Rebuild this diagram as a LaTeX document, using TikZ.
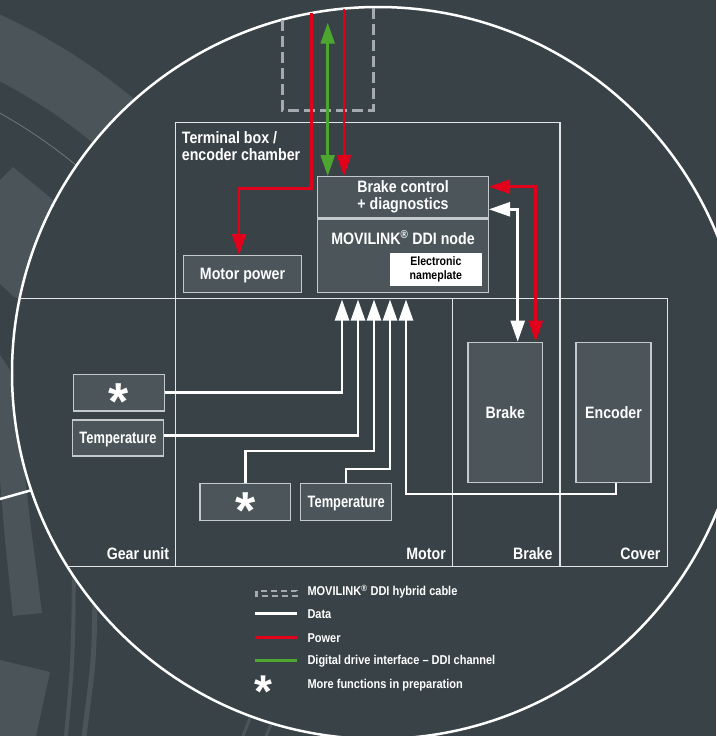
\documentclass[tikz,border=0pt]{standalone}
\usepackage{fontspec}
\setmainfont{Liberation Sans}[FakeStretch=0.86]
\newfontfamily\narrowfont{Liberation Sans}[FakeStretch=0.78]
\newfontfamily\starfont{Liberation Sans}
\usetikzlibrary{arrows.meta,calc}
\definecolor{bgc}{HTML}{394246}
\definecolor{boxc}{HTML}{4B555A}
\definecolor{decoc}{HTML}{4A5459}
\definecolor{edgec}{HTML}{C4C9CB}
\definecolor{secc}{HTML}{E2E5E6}
\definecolor{redc}{HTML}{E2001A}
\definecolor{greenc}{HTML}{4DA62F}
\definecolor{cablec}{HTML}{A4AAAD}
\tikzset{
  unit/.style={draw=edgec, fill=boxc, line width=1.4pt, inner sep=0pt, text=white,
    font=\fontsize{16.5}{16.7}\selectfont\bfseries},
  onel/.style={text height=11.8pt, text depth=0pt},
  lab/.style={text=white, inner sep=0pt, font=\fontsize{16.5}{17.4}\selectfont\bfseries},
  leg/.style={text=white, inner sep=0pt, anchor=base west, font=\fontsize{12.8}{14}\selectfont\bfseries},
  sect/.style={draw=secc, line width=1.3pt},
  datal/.style={draw=white, line width=2.5pt},
  powl/.style={draw=redc, line width=2.5pt},
  ddil/.style={draw=greenc, line width=2.5pt},
  cable/.style={draw=cablec, line width=3pt, dash pattern=on 11pt off 5pt},
  arrowend/.style={-{Triangle[length=21pt,width=14pt]}},
  arrowboth/.style={{Triangle[length=21pt,width=14pt]}-{Triangle[length=21pt,width=14pt]}},
  starsym/.style={text=white, inner sep=0pt, anchor=base, font=\starfont\bfseries\fontsize{52}{52}\selectfont},
}
\begin{document}
\begin{tikzpicture}[x=1pt,y=-1pt]
\fill[bgc] (0,0) rectangle (716,736);
\useasboundingbox (0,0) rectangle (716,736);
% background decoration
\fill[decoc] ($(-250,560)+(-75:600)$) arc[start angle=-75,end angle=-40,radius=600]
  -- ($(-250,560)+(-40:540)$) arc[start angle=-40,end angle=-75,radius=540] -- cycle;
\draw[decoc!80!white, line width=0.8pt] ($(-250,560)+(-75:512)$) arc[start angle=-75,end angle=-40,radius=512];
\fill[decoc] (0,180) -- (13,167) -- (80,222) -- (80,330) -- (13,296) -- (0,284) -- cycle;
\fill[decoc] (0,355) -- (10,370) -- (22,450) -- (30,520) -- (42,613) -- (13,616) -- (5,540) -- (0,480) -- cycle;
\draw[decoc, line width=4pt] (74,570) .. controls (73,660) .. (66,736);
\draw[decoc, line width=5pt] (95,595) .. controls (94,660) .. (84,736);
\fill[decoc] (0,660) -- (50,672) -- (36,736) -- (0,736) -- cycle;
\draw[decoc, line width=3pt] (250,718) -- (243,736);
\draw[decoc, line width=3pt] (273,720) -- (266,736);
\draw[white, line width=2.5pt] (0,499) -- (32,490);
% main circle
\fill[bgc] (378,373) circle[radius=366pt];
\draw[white, line width=2.5pt] (378,373) circle[radius=366pt];
% sections
\begin{scope}
  \clip (378,373) circle[radius=366pt];
  \draw[sect] (0,298.3) -- (667.3,298.3) -- (667.3,566.7) -- (0,566.7);
\end{scope}
\draw[sect] (175.7,566.7) -- (175.7,122.3) -- (560,122.3) -- (560,566.7);
\draw[sect] (452.7,298.3) -- (452.7,566.7);
\node[lab, anchor=base west] (tb1) at (181.7,143.3) {Terminal box /};
\node[lab, anchor=base west] (tb2) at (181.7,160.7) {encoder chamber};
\node[lab, anchor=base east] (lgear) at (169.3,559.3) {Gear unit};
\node[lab, anchor=base east] (lmotor) at (446,559.3) {Motor};
\node[lab, anchor=base east] (lbrake) at (552.7,559.3) {Brake};
\node[lab, anchor=base east] (lcover) at (660.7,559.3) {Cover};
% cable
\draw[cable] (282.3,19.7) -- (282.3,110) -- (373.3,110) -- (373.3,7.1);
% units
\node[unit, onel, minimum width=118.4pt, minimum height=36.6pt] (mp) at (242.5,274) {Motor power};
\node[unit, minimum width=170.6pt, minimum height=40.6pt, align=center] (bc) at (403,197) {Brake control\\+ diagnostics};
\node[unit, minimum width=170.6pt, minimum height=73.3pt] (ddi) at (403,255.65) {};
\node[lab, anchor=base] (ddit) at (403,244.3) {MOVILINK\textsuperscript{®} DDI node};
\node[fill=white, minimum width=91.7pt, minimum height=32.4pt, inner sep=0pt, align=center,
  font=\fontsize{12.3}{14.5}\selectfont\bfseries, text=black] (np) at (435.85,269.5) {Electronic\\nameplate};
\node[unit, onel, minimum width=74.7pt, minimum height=140pt] (brk) at (505.35,412.3) {Brake};
\node[unit, onel, minimum width=75pt, minimum height=140pt] (enc) at (613.5,412.3) {Encoder};
\node[unit, minimum width=91pt, minimum height=36.7pt] (gstar) at (118.8,392.65) {};
\node[unit, onel, minimum width=91.4pt, minimum height=36pt, font=\narrowfont\fontsize{16.5}{16.7}\selectfont\bfseries] (gtemp) at (118,438) {Temperature};
\node[unit, minimum width=90.7pt, minimum height=37.4pt] (mstar) at (245.35,502) {};
\node[unit, onel, minimum width=91pt, minimum height=37.4pt, font=\narrowfont\fontsize{16.5}{16.7}\selectfont\bfseries] (mtemp) at (346.2,502) {Temperature};
\node[starsym] (gstart) at ($(gstar.center)+(0,26.5)$) {*};
\node[starsym] (mstart) at ($(mstar.center)+(0,26.5)$) {*};
% power / ddi from cable
\coordinate (c1) at (311.7,13);
\coordinate (k1) at (311.7,188.3);
\coordinate (c2) at (327.7,22.7);
\coordinate (c3) at (344,8.6);
\draw[powl, arrowend] (c1) -- (k1) -| ($(mp.north)+(-3.5,0)$);
\draw[ddil, arrowboth] (c2) -- (bc.north -| c2);
\draw[powl, arrowend] (c3) -- (bc.north -| c3);
% brake links
\coordinate (wk) at (517.7,209.3);
\coordinate (rk) at (535.7,186.7);
\draw[datal, arrowboth] (bc.east |- wk) -- (wk) -- (brk.north -| wk);
\draw[powl, arrowboth] (bc.east |- rk) -- (rk) -- (brk.north -| rk);
% data into DDI node
\coordinate (a1) at (342,299.5);
\coordinate (a2) at (358,299.5);
\coordinate (a3) at (374,299.5);
\coordinate (a4) at (390,299.5);
\coordinate (a5) at (406,299.5);
\coordinate (k3) at (374,451);
\coordinate (k4) at (390,469);
\coordinate (k5) at (406,494);
\draw[datal, arrowend] (gstar.east) -| (a1);
\draw[datal, arrowend] ($(gtemp.east)+(0,-2.7)$) -| (a2);
\draw[datal, arrowend] (mstar.north) |- (k3) -- (a3);
\draw[datal, arrowend] (mtemp.north) |- (k4) -- (a4);
\draw[datal, arrowend] ($(enc.south)+(2.5,0)$) |- (k5) -- (a5);
% legend
\draw[draw=cablec, line width=2.5pt, dash pattern=on 6pt off 4pt] (256.5,591) rectangle (296.5,596);
\coordinate (l2a) at (255,613.7); \coordinate (l2b) at (297,613.7);
\coordinate (l3a) at (255,637.3); \coordinate (l3b) at (297,637.3);
\coordinate (l4a) at (255,660);   \coordinate (l4b) at (297,660);
\draw[datal, line width=3pt] (l2a) -- (l2b);
\draw[powl, line width=3pt] (l3a) -- (l3b);
\draw[ddil, line width=3pt] (l4a) -- (l4b);
\node[starsym, font=\starfont\bfseries\fontsize{46}{46}\selectfont] (lstar) at (263.3,707) {*};
\node[leg] (t1) at (307.3,595.7) {MOVILINK\textsuperscript{®} DDI hybrid cable};
\node[leg] (t2) at (307.3,618.7) {Data};
\node[leg] (t3) at (307.3,642) {Power};
\node[leg] (t4) at (307.3,664) {Digital drive interface – DDI channel};
\node[leg] (t5) at (307.3,688.7) {More functions in preparation};
\end{tikzpicture}
\end{document}
